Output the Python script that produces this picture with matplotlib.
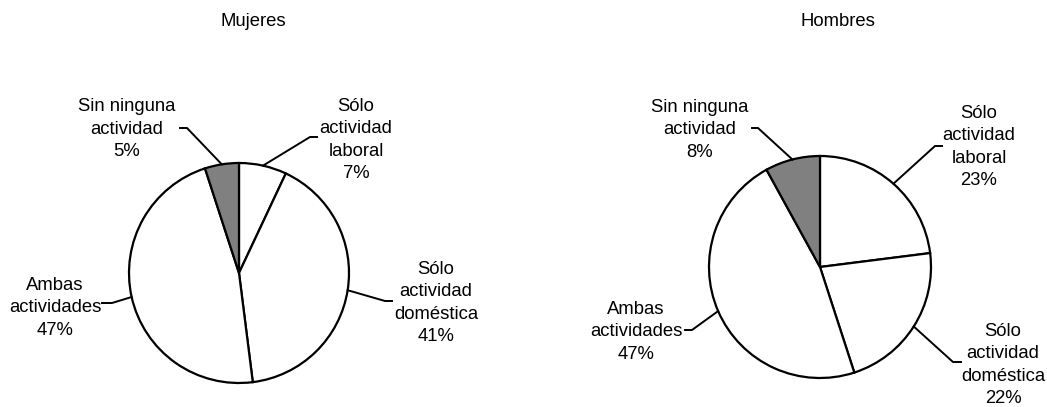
import numpy as np
import matplotlib.pyplot as plt

plt.rcParams["font.family"] = ["Liberation Sans", "DejaVu Sans"]

W, H = 1047, 407

categories = ["Sólo\nactividad\nlaboral", "Sólo\nactividad\ndoméstica",
              "Ambas\nactividades", "Sin ninguna\nactividad"]
mujeres = [7, 41, 47, 5]
hombres = [23, 22, 47, 8]
colors = ["white", "white", "white", "#808080"]

# layout in pixels (y measured from top)
panels = [
    dict(title="Mujeres", values=mujeres, center=(239, 273), radius=110,
         title_pos=(253, 21),
         text_pos=[(356, 140), (436, 303), (55, 308), (127, 129)],
         elbow=[(310, 137), (385, 301), (112, 303), (187, 128)],
         tail=[(317, 137), (392, 301), (102, 303), (180, 128)]),
    dict(title="Hombres", values=hombres, center=(820, 267), radius=111,
         title_pos=(838, 21),
         text_pos=[(979, 147), (1003, 365), (636, 332), (700, 130)],
         elbow=[(935, 146), (953, 362), (692, 330), (758, 128)],
         tail=[(942, 146), (961, 362), (685, 330), (752, 128)]),
]

fig = plt.figure(figsize=(W / 100, H / 100), dpi=100)
ax = fig.add_axes([0, 0, 1, 1])

for p in panels:
    cx, cy = p["center"]
    cy = H - cy
    wedges, _ = ax.pie(p["values"], colors=colors, startangle=90,
                       counterclock=False, center=(cx, cy), radius=p["radius"],
                       wedgeprops=dict(edgecolor="black", linewidth=1.6),
                       frame=True)
    ax.text(p["title_pos"][0], H - p["title_pos"][1], p["title"],
            ha="center", va="center", fontsize=13.3)
    for i, w in enumerate(wedges):
        ang = np.deg2rad((w.theta1 + w.theta2) / 2)
        sx = cx + p["radius"] * np.cos(ang)
        sy = cy + p["radius"] * np.sin(ang)
        ex, ey = p["elbow"][i]
        tx, ty = p["tail"][i]
        ax.plot([sx, ex, tx], [sy, H - ey, H - ty], color="black", lw=1.4)
        label = f"{categories[i]}\n{p['values'][i]}%"
        x, y = p["text_pos"][i]
        ax.text(x, H - y, label, ha="center", va="center", fontsize=13.3,
                linespacing=1.42)

ax.set_xlim(0, W)
ax.set_ylim(0, H)
ax.set_aspect("equal")
ax.axis("off")
fig.savefig("out.png", dpi=100, facecolor="white")
